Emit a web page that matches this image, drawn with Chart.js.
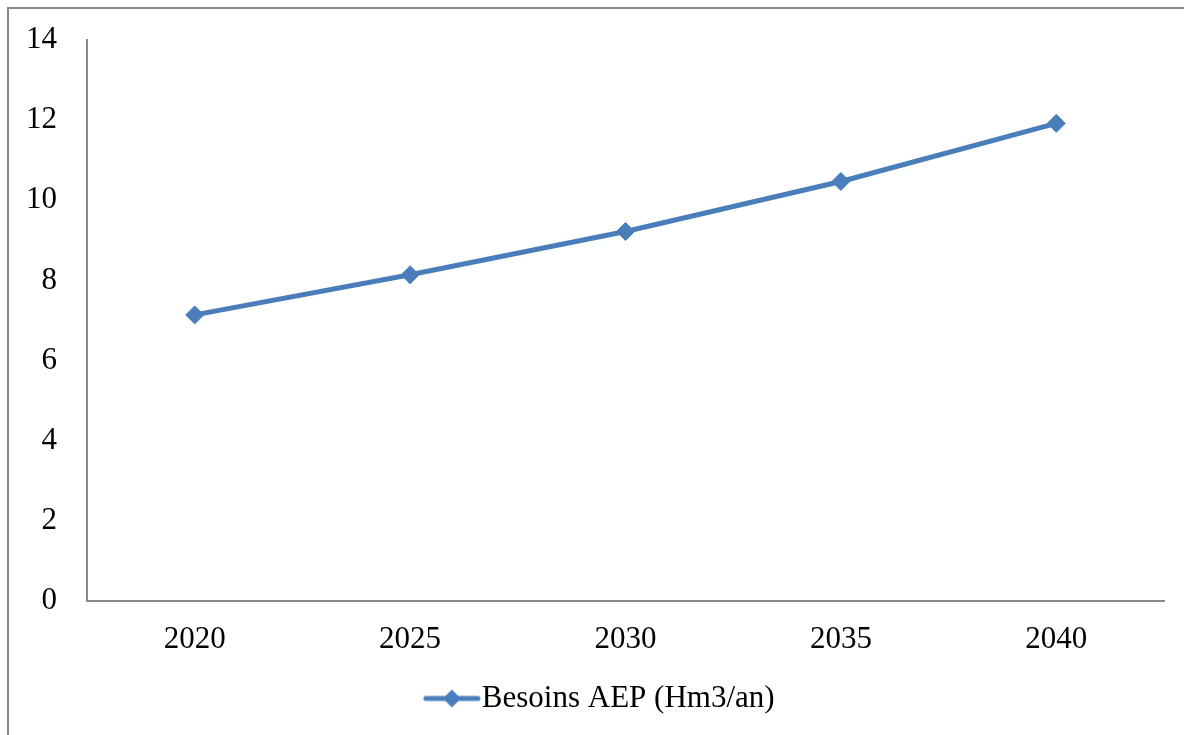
<!DOCTYPE html>
<html>
<head>
<meta charset="utf-8">
<script src="https://cdn.jsdelivr.net/npm/chart.js@4/dist/chart.umd.min.js"></script>
<style>
  html, body { margin: 0; padding: 0; background: #ffffff; }
  canvas { display: block; }
</style>
</head>
<body>
<canvas id="chart" width="1184" height="735"></canvas>
<script>
// Projected drinking-water needs (AEP), Hm3 per year
const years = ['2020', '2025', '2030', '2035', '2040'];
const besoinsAEP = [7.14, 8.14, 9.22, 10.47, 11.92];
const seriesLabel = 'Besoins AEP (Hm3/an)';
const yTicks = { min: 0, max: 14, step: 2 };

const lineColor = '#4a7ebb';
const axisColor = '#898989';
const fontSpec = { family: "'Liberation Serif', 'Times New Roman', serif", size: 31 };

// Legend symbol: a short line segment with a diamond marker,
// drawn right of the image centre so it sits just before the label text
function makeLegendSymbol() {
  const c = document.createElement('canvas');
  c.width = 106; c.height = 22;
  const g = c.getContext('2d');
  const cx = 77;
  g.strokeStyle = lineColor;
  g.lineWidth = 5;
  g.lineCap = 'round';
  g.beginPath(); g.moveTo(cx - 26, 11); g.lineTo(cx + 26, 11); g.stroke();
  g.fillStyle = lineColor;
  g.beginPath();
  g.moveTo(cx, 2); g.lineTo(cx + 9, 11); g.lineTo(cx, 20); g.lineTo(cx - 9, 11);
  g.closePath(); g.fill();
  return c;
}

// Frame around the chart (top and left edges fall inside the canvas)
const framePlugin = {
  id: 'frame',
  beforeDraw(chart) {
    const ctx = chart.ctx;
    ctx.save();
    ctx.strokeStyle = axisColor;
    ctx.lineWidth = 2;
    ctx.beginPath();
    ctx.moveTo(8, chart.height + 2);
    ctx.lineTo(8, 8);
    ctx.lineTo(chart.width + 2, 8);
    ctx.stroke();
    ctx.restore();
  }
};

new Chart(document.getElementById('chart'), {
  type: 'line',
  data: {
    labels: years,
    datasets: [{
      label: seriesLabel,
      data: besoinsAEP,
      borderColor: lineColor,
      backgroundColor: lineColor,
      borderWidth: 5,
      pointStyle: 'rectRot',
      pointRadius: 9,
      pointHoverRadius: 9,
      pointBorderWidth: 1,
      pointBackgroundColor: lineColor,
      pointBorderColor: lineColor,
      tension: 0,
      fill: false
    }]
  },
  options: {
    responsive: false,
    devicePixelRatio: 1,
    animation: false,
    layout: { padding: { left: 0, right: 20, top: 40, bottom: 11 } },
    plugins: {
      tooltip: { enabled: false },
      legend: {
        position: 'bottom',
        labels: {
          usePointStyle: true,
          pointStyle: makeLegendSymbol(),
          pointStyleWidth: 77,
          color: '#000000',
          font: fontSpec,
          padding: 10
        }
      }
    },
    scales: {
      x: {
        offset: true,
        grid: { display: false, drawTicks: false },
        border: { display: true, color: axisColor, width: 2 },
        ticks: { color: '#000000', font: fontSpec, padding: 20, maxRotation: 0 },
        afterFit(scale) { scale.height = 72; }
      },
      y: {
        min: yTicks.min,
        max: yTicks.max,
        grid: { display: false, drawTicks: false },
        border: { display: true, color: axisColor, width: 2 },
        ticks: { stepSize: yTicks.step, color: '#000000', font: fontSpec, padding: 30 },
        afterFit(scale) {
          scale.width = 87;
          scale.paddingTop = 0;
          scale.paddingBottom = 0;
        }
      }
    }
  },
  plugins: [framePlugin]
});
</script>
</body>
</html>
